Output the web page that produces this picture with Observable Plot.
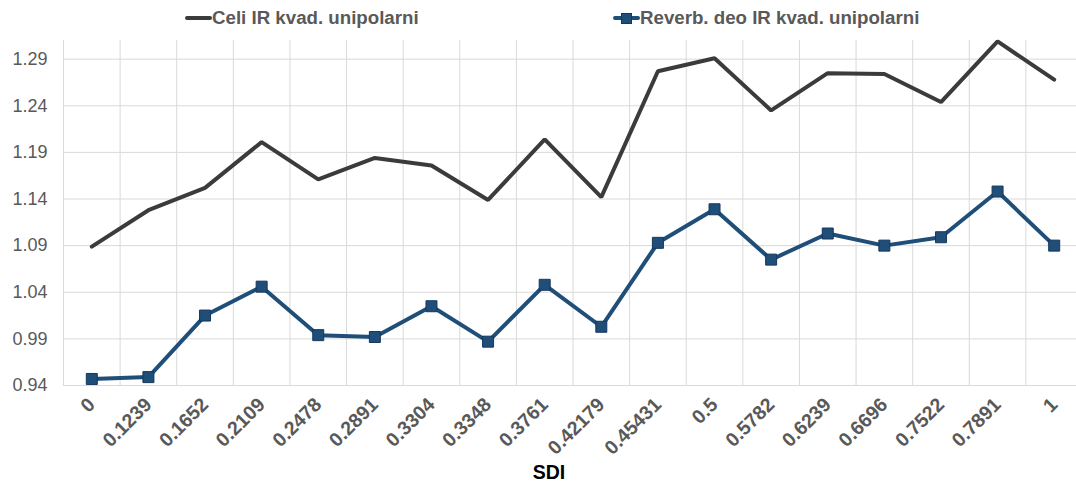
<!DOCTYPE html>
<html>
<head>
<meta charset="utf-8">
<script src="https://cdn.jsdelivr.net/npm/d3@7"></script>
<script src="https://cdn.jsdelivr.net/npm/@observablehq/plot@0.6"></script>
<style>
  html, body { margin: 0; padding: 0; background: #fff; overflow: hidden; }
  body { width: 1076px; height: 481px; font-family: "Liberation Sans", Arial, sans-serif; }
  .legend { position: relative; height: 36px; font-weight: bold; font-size: 18.7px; color: #595959; }
  .legend .item { position: absolute; top: 0; height: 36px; display: flex; align-items: center; }
  .legend .swatch { position: relative; width: 27px; height: 36px; }
  .legend .swatch .ln { position: absolute; left: 0; right: 0; top: 16px; height: 4px; border-radius: 2px; }
  .legend .swatch .sq { position: absolute; left: 8px; top: 13px; width: 9px; height: 9px; border: 1px solid #17375e; }
</style>
</head>
<body>
<div class="legend" id="legend"></div>
<div id="chart"></div>
<script>
// SDI categories along the x axis
const categories = ["0", "0.1239", "0.1652", "0.2109", "0.2478", "0.2891", "0.3304", "0.3348", "0.3761",
  "0.42179", "0.45431", "0.5", "0.5782", "0.6239", "0.6696", "0.7522", "0.7891", "1"];

// Series values, one per category
const celiValues = [1.089, 1.128, 1.152, 1.201, 1.161, 1.184, 1.176, 1.139, 1.204,
  1.142, 1.277, 1.291, 1.235, 1.275, 1.274, 1.244, 1.309, 1.268];
const reverbValues = [0.947, 0.949, 1.015, 1.046, 0.994, 0.992, 1.025, 0.987, 1.048,
  1.003, 1.093, 1.129, 1.075, 1.103, 1.090, 1.099, 1.148, 1.090];

const seriesNames = ["Celi IR kvad. unipolarni", "Reverb. deo IR kvad. unipolarni"];
const yTicks = [0.94, 0.99, 1.04, 1.09, 1.14, 1.19, 1.24, 1.29];

const celiColor = "#3b3b3b";
const reverbColor = "#1f4e79";
const gridColor = "#d9d9d9";

// Legend
const legend = document.getElementById("legend");
legend.innerHTML = `
  <div class="item" style="left:185px"><div class="swatch"><div class="ln" style="background:${celiColor}"></div></div><span>${seriesNames[0]}</span></div>
  <div class="item" style="left:613px"><div class="swatch"><div class="ln" style="background:${reverbColor}"></div><div class="sq" style="background:${reverbColor}"></div></div><span>${seriesNames[1]}</span></div>`;

const celi = categories.map((c, i) => ({i, sdi: c, v: celiValues[i]}));
const reverb = categories.map((c, i) => ({i, sdi: c, v: reverbValues[i]}));
const boundaries = categories.map((c, i) => i - 0.5);

const chart = Plot.plot({
  width: 1076,
  height: 445,
  marginLeft: 63,
  marginRight: -6,
  marginTop: 4,
  marginBottom: 96,
  style: {fontFamily: "'Liberation Sans', Arial, sans-serif", color: "#595959", background: "transparent", overflow: "visible"},
  x: {domain: [-0.5, categories.length - 0.5]},
  y: {domain: [0.94, 1.31]},
  marks: [
    Plot.ruleY(yTicks, {stroke: gridColor, strokeWidth: 1}),
    Plot.ruleX(boundaries, {stroke: gridColor, strokeWidth: 1}),
    Plot.axisY({ticks: yTicks, tickFormat: d3.format(".2f"), tickSize: 0, tickPadding: 16, fontSize: 18, label: null}),
    Plot.axisX({ticks: categories.map((c, i) => i), tickFormat: i => categories[i], tickSize: 0, tickPadding: 16,
      tickRotate: -45, fontSize: 19.5, fontWeight: "bold", label: null}),
    Plot.text(["SDI"], {frameAnchor: "bottom", dy: 87, dx: -24, text: d => d, fontSize: 19.5, fontWeight: "bold",
      fill: "#000", lineAnchor: "middle"}),
    Plot.line(celi, {x: "i", y: "v", stroke: celiColor, strokeWidth: 4, strokeLinejoin: "miter"}),
    Plot.line(reverb, {x: "i", y: "v", stroke: reverbColor, strokeWidth: 4, strokeLinejoin: "round"}),
    Plot.dot(reverb, {x: "i", y: "v", symbol: "square", r: 6.2, fill: reverbColor, stroke: "#17375e", strokeWidth: 1})
  ]
});
document.getElementById("chart").appendChild(chart);
</script>
</body>
</html>
